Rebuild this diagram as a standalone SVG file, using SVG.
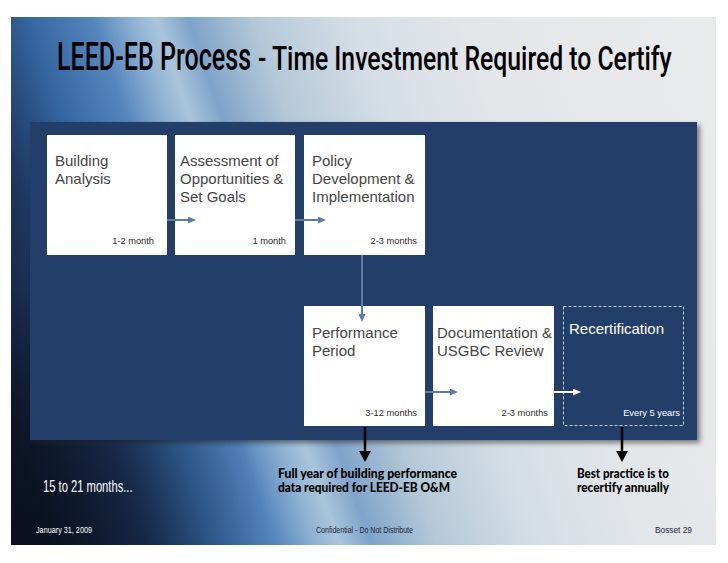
<svg xmlns="http://www.w3.org/2000/svg" width="728" height="563" viewBox="0 0 728 563">
<defs>
  <linearGradient id="bg" gradientUnits="userSpaceOnUse" x1="0" y1="400" x2="716" y2="150">
    <stop offset="0" stop-color="#111b30"/>
    <stop offset="0.12" stop-color="#1f3862"/>
    <stop offset="0.2" stop-color="#3566a0"/>
    <stop offset="0.28" stop-color="#5585bd"/>
    <stop offset="0.33" stop-color="#8fb2d3"/>
    <stop offset="0.36" stop-color="#a9c5dc"/>
    <stop offset="0.40" stop-color="#7fa3c9"/>
    <stop offset="0.48" stop-color="#b3c8d8"/>
    <stop offset="0.6" stop-color="#d4dde5"/>
    <stop offset="0.75" stop-color="#e3e6e9"/>
    <stop offset="1" stop-color="#e9eaeb"/>
  </linearGradient>
  <radialGradient id="dark" gradientUnits="userSpaceOnUse" cx="11" cy="545" r="260">
    <stop offset="0" stop-color="#070c18" stop-opacity="0.75"/>
    <stop offset="1" stop-color="#070c18" stop-opacity="0"/>
  </radialGradient>
  <filter id="blur" x="-10%" y="-10%" width="120%" height="120%">
    <feGaussianBlur stdDeviation="2.5"/>
  </filter>
  <marker id="ab" markerUnits="userSpaceOnUse" markerWidth="8" markerHeight="7" refX="4" refY="3.5" orient="auto">
    <path d="M0,0 L8,3.5 L0,7 z" fill="#5b7bab"/>
  </marker>
  <marker id="aw" markerUnits="userSpaceOnUse" markerWidth="8" markerHeight="7" refX="4" refY="3.5" orient="auto">
    <path d="M0,0 L8,3.5 L0,7 z" fill="#ffffff"/>
  </marker>
  <marker id="ak" markerUnits="userSpaceOnUse" markerWidth="11" markerHeight="12" refX="6" refY="6" orient="auto">
    <path d="M0,0 L11,6 L0,12 z" fill="#000000"/>
  </marker>
  <style>
    .box { fill: #ffffff; }
    .lbl { font-family: "Liberation Sans", Arial, sans-serif; font-size: 15px; fill: #454545; }
    .dur { font-family: "Liberation Sans", Arial, sans-serif; font-size: 9.3px; fill: #2a2a2a; text-anchor: end; }
    .title { font-family: Roboto, "Liberation Sans", Arial, sans-serif; font-weight: 500; fill: #000000; }
    .note { font-family: "Lato", "DejaVu Sans", sans-serif; font-weight: 900; font-size: 12.5px; fill: #000000; }
    .foot { font-family: "Liberation Sans", Arial, sans-serif; font-size: 9px; }
    .blue { stroke: #5b7bab; stroke-width: 2; fill: none; }
  </style>
</defs>

<rect x="0" y="0" width="728" height="563" fill="#ffffff"/>
<g id="background">
  <rect x="11" y="17" width="705" height="528" fill="url(#bg)"/>
  <rect x="11" y="17" width="705" height="528" fill="url(#dark)"/>
</g>

<g id="title">
  <g transform="translate(57,70) scale(0.62,1)">
    <text class="title" x="0" y="0" font-size="39" textLength="313" lengthAdjust="spacingAndGlyphs">LEED-EB Process</text>
  </g>
  <g transform="translate(258,70) scale(0.74,1)">
    <text class="title" x="0" y="0" font-size="33" textLength="559" lengthAdjust="spacingAndGlyphs">- Time Investment Required to Certify</text>
  </g>
</g>

<g id="panel">
  <rect x="33" y="125" width="667" height="318" fill="#222" opacity="0.55" filter="url(#blur)"/>
  <rect x="30" y="122" width="667" height="318" fill="#243e6a"/>
</g>

<g id="node-building-analysis">
  <rect class="box" x="47" y="135" width="120" height="120"/>
  <text class="lbl" x="55" y="166">Building</text>
  <text class="lbl" x="55" y="184">Analysis</text>
  <text class="dur" x="154" y="244">1-2 month</text>
</g>
<g id="node-assessment">
  <rect class="box" x="175" y="135" width="120" height="120"/>
  <text class="lbl" x="180" y="166">Assessment of</text>
  <text class="lbl" x="180" y="184">Opportunities &amp;</text>
  <text class="lbl" x="180" y="202">Set Goals</text>
  <text class="dur" x="286" y="244">1 month</text>
</g>
<g id="node-policy">
  <rect class="box" x="304" y="135" width="121" height="120"/>
  <text class="lbl" x="312" y="166">Policy</text>
  <text class="lbl" x="312" y="184">Development &amp;</text>
  <text class="lbl" x="312" y="202">Implementation</text>
  <text class="dur" x="417" y="244">2-3 months</text>
</g>
<g id="node-performance">
  <rect class="box" x="304" y="306" width="121" height="120"/>
  <text class="lbl" x="312" y="338">Performance</text>
  <text class="lbl" x="312" y="356">Period</text>
  <text class="dur" x="417" y="416">3-12 months</text>
</g>
<g id="node-documentation">
  <rect class="box" x="433" y="306" width="121" height="120"/>
  <text class="lbl" x="437" y="338">Documentation &amp;</text>
  <text class="lbl" x="437" y="356">USGBC Review</text>
  <text class="dur" x="548" y="416">2-3 months</text>
</g>
<g id="node-recertification">
  <rect x="563.5" y="306.5" width="120" height="119" fill="none" stroke="#c4ccd8" stroke-width="1" stroke-dasharray="3,2"/>
  <text class="lbl" x="569" y="334" style="fill:#ffffff">Recertification</text>
  <text class="dur" x="680" y="416" style="fill:#ffffff">Every 5 years</text>
</g>

<g id="connectors">
  <line class="blue" x1="167" y1="220" x2="192" y2="220" marker-end="url(#ab)"/>
  <line class="blue" x1="295" y1="220" x2="322" y2="220" marker-end="url(#ab)"/>
  <line class="blue" x1="362" y1="255" x2="362" y2="318" marker-end="url(#ab)"/>
  <line class="blue" x1="425" y1="392" x2="454" y2="392" marker-end="url(#ab)"/>
  <line x1="554" y1="392" x2="577" y2="392" stroke="#ffffff" stroke-width="2" marker-end="url(#aw)"/>
  <line x1="365" y1="427" x2="365" y2="457" stroke="#000000" stroke-width="2.5" marker-end="url(#ak)"/>
  <line x1="622" y1="427" x2="622" y2="457" stroke="#000000" stroke-width="2.5" marker-end="url(#ak)"/>
</g>

<g id="notes">
  <text class="note" x="278" y="478" textLength="179" lengthAdjust="spacingAndGlyphs">Full year of building performance</text>
  <text class="note" x="278" y="492" textLength="172" lengthAdjust="spacingAndGlyphs">data required for LEED-EB O&amp;M</text>
  <text class="note" x="577" y="478" textLength="92" lengthAdjust="spacingAndGlyphs">Best practice is to</text>
  <text class="note" x="577" y="492" textLength="92" lengthAdjust="spacingAndGlyphs">recertify annually</text>
  <g transform="translate(43,492) scale(0.70,1)">
    <text x="0" y="0" font-family="Liberation Sans, Arial, sans-serif" font-size="16" fill="#ffffff" textLength="128" lengthAdjust="spacingAndGlyphs">15 to 21 months...</text>
  </g>
</g>

<g id="footer">
  <text class="foot" x="36" y="533" fill="#ffffff" textLength="56" lengthAdjust="spacingAndGlyphs">January 31, 2009</text>
  <text class="foot" x="316" y="533" fill="#1a2538" textLength="97" lengthAdjust="spacingAndGlyphs">Confidential - Do Not Distribute</text>
  <text class="foot" x="655" y="533" fill="#1a2538" textLength="37" lengthAdjust="spacingAndGlyphs">Bosset 29</text>
</g>
</svg>
